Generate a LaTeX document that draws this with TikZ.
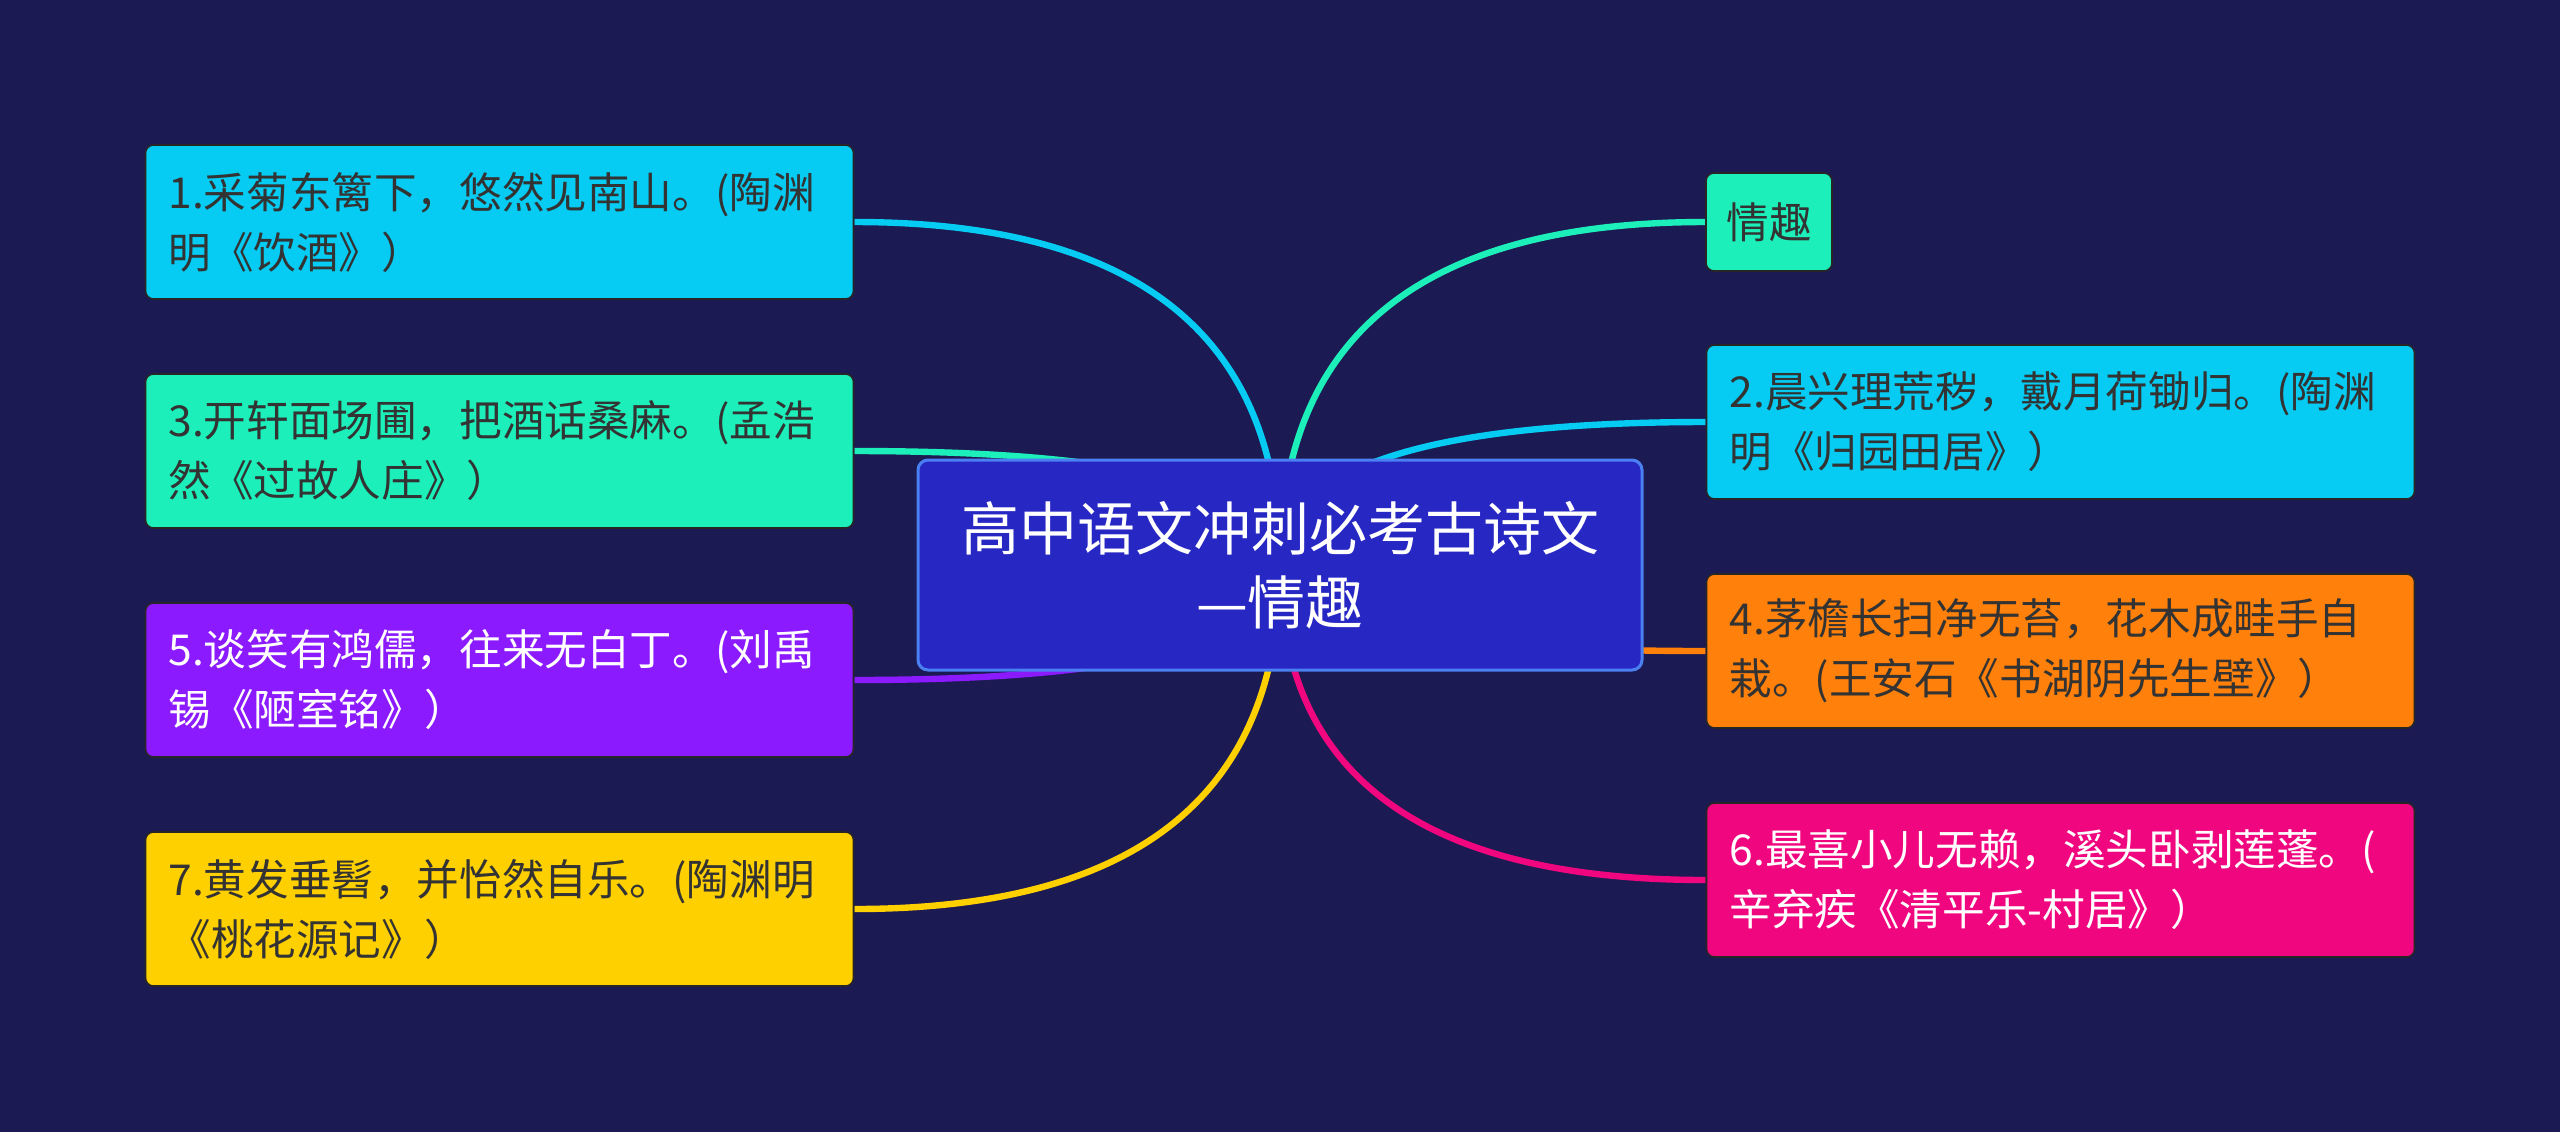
\documentclass[tikz,border=0pt]{standalone}
\usepackage{fontspec}
\setmainfont{Noto Sans CJK SC}
\usepackage{xcolor}
\usetikzlibrary{calc}
\definecolor{bgnavy}{HTML}{1C1A52}
\definecolor{skyfill}{HTML}{06CBF2}
\definecolor{mintfill}{HTML}{1CEFBA}
\definecolor{violetfill}{HTML}{8C1AFF}
\definecolor{goldfill}{HTML}{FFD000}
\definecolor{orangefill}{HTML}{FF800A}
\definecolor{rosefill}{HTML}{F0077F}
\definecolor{rootfill}{HTML}{2727C4}
\definecolor{rootline}{HTML}{4A80F2}
\definecolor{inkdark}{HTML}{333333}
\pgfdeclarelayer{bg}
\pgfdeclarelayer{links}
\pgfsetlayers{bg,links,main}

\begin{document}
\begin{tikzpicture}[
  x=0.5pt, y=-0.5pt,
  leaf/.style={draw=black!85, line width=0.8pt, rounded corners=4pt,
    text width=331pt, inner xsep=11.5pt, minimum height=77pt, align=left,
    font=\fontsize{21.3}{30}\selectfont, text=inkdark},
  tag/.style={draw=black!85, line width=0.8pt, rounded corners=4pt,
    minimum width=63pt, minimum height=49pt, fill=mintfill,
    font=\fontsize{21.3}{30}\selectfont, text=inkdark},
  root/.style={draw=rootline, line width=1.5pt, rounded corners=5pt,
    fill=rootfill, text=white, align=center, minimum width=362pt,
    minimum height=105pt, font=\fontsize{29}{37}\selectfont},
  link/.style={line width=3.2pt}]
\begin{pgfonlayer}{bg}
\fill[bgnavy] (0,0) rectangle (2560,1132);
\end{pgfonlayer}

% centre
\node[root] (title) at (1280,565) {高中语文冲刺必考古诗文\\—情趣};

% left side
\node[leaf, fill=skyfill] (n1) at (499.5,222) {1.采菊东篱下，悠然见南山。(陶渊\\明《饮酒》）};
\node[leaf, fill=mintfill] (n3) at (499.5,451) {3.开轩面场圃，把酒话桑麻。(孟浩\\然《过故人庄》）};
\node[leaf, fill=violetfill, text=white] (n5) at (499.5,680) {5.谈笑有鸿儒，往来无白丁。(刘禹\\锡《陋室铭》）};
\node[leaf, fill=goldfill] (n7) at (499.5,909) {7.黄发垂髫，并怡然自乐。(陶渊明\\《桃花源记》）};

% right side
\node[tag] (mood) at (1769,222) {情趣};
\node[leaf, fill=skyfill] (n2) at (2060.5,422) {2.晨兴理荒秽，戴月荷锄归。(陶渊\\明《归园田居》）};
\node[leaf, fill=orangefill] (n4) at (2060.5,651) {4.茅檐长扫净无苔，花木成畦手自\\栽。(王安石《书湖阴先生壁》）};
\node[leaf, fill=rosefill, text=white] (n6) at (2060.5,880) {6.最喜小儿无赖，溪头卧剥莲蓬。(\\辛弃疾《清平乐-村居》）};

% branches
\begin{pgfonlayer}{links}
\foreach \n/\c/\a in {n1/skyfill/east, n3/mintfill/east, n5/violetfill/east,
    n7/goldfill/east, mood/mintfill/west, n2/skyfill/west,
    n4/orangefill/west, n6/rosefill/west}
  \draw[link, \c] (title.center)
    .. controls ($(title.center)!2/3!(title.center |- \n.\a)$)
    and ($(\n.\a)!2/3!(title.center |- \n.\a)$) .. (\n.\a);
\end{pgfonlayer}
\end{tikzpicture}
\end{document}
